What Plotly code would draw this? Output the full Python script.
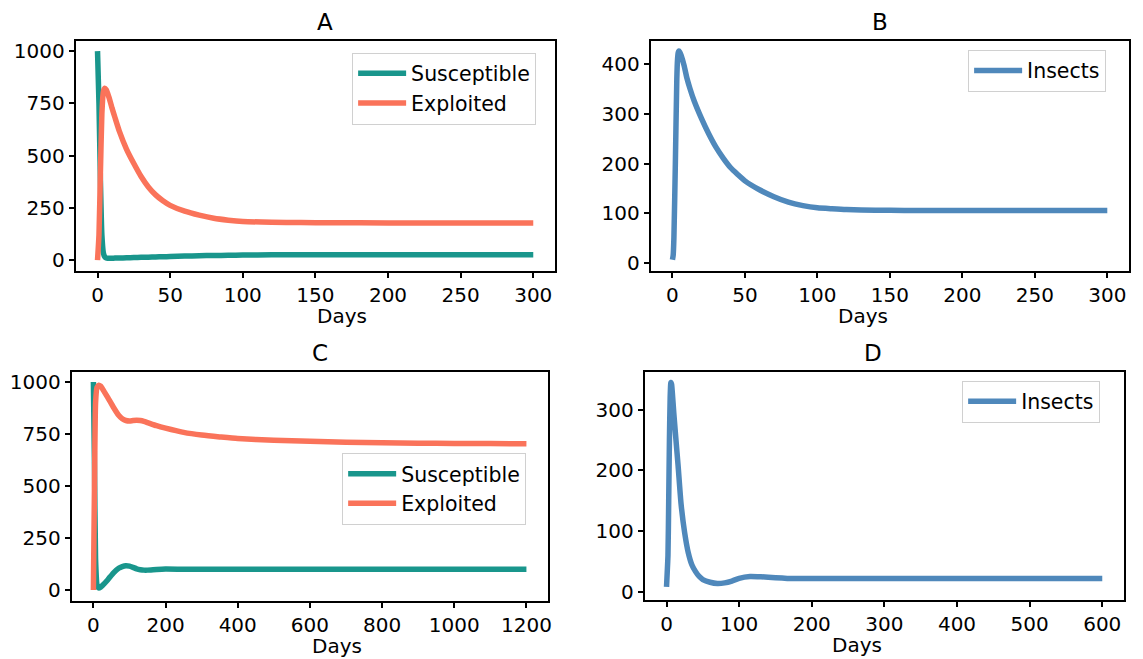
"""Four-panel model output: host classes and insect counts over time."""

import plotly.graph_objects as go

# ─── Data ─────────────────────────────────────────────────────────────────────
# Panel A: hosts, 300 days
days_a = [0, 1, 2, 3, 4, 5, 6, 7, 8, 10, 12, 15, 20, 25, 30, 35, 40, 45, 50,
          60, 70, 80, 90, 100, 120, 140, 160, 200, 250, 300]
susceptible_a = [1000, 750, 380, 120, 35, 15, 10, 9, 9, 9, 9.5, 10, 11, 12, 13,
                 14, 15, 16, 17, 19, 21, 22, 23, 24, 25, 26, 26, 26, 26, 26]
exploited_a = [0, 120, 420, 700, 805, 822, 815, 798, 776, 727, 682, 617, 530,
               462, 400, 350, 312, 284, 262, 234, 215, 200, 191, 185, 181,
               179.5, 179, 178, 178, 178]

# Panel B: insects, 300 days
days_b = [0, 0.5, 1, 2, 3, 3.5, 4, 4.5, 5, 6, 8, 10, 12, 15, 20, 25, 30, 35, 40,
          45, 50, 60, 70, 80, 90, 100, 110, 120, 140, 160, 200, 250, 300]
insects_b = [6, 15, 50, 200, 370, 410, 424, 427, 425, 418, 398, 372, 352, 326,
             291, 260, 233, 211, 192, 178, 165, 147, 133, 122, 115, 110.5, 108.5,
             107, 105.8, 105.3, 105, 105, 105]

# Panel C: hosts, 1200 days
days_c = [0, 3, 6, 10, 15, 20, 25, 40, 55, 70, 80, 90, 100, 110, 120, 130, 140,
          150, 175, 200, 250, 300, 350, 400, 500, 600, 700, 800, 900, 1000,
          1100, 1200]
susceptible_c = [1000, 600, 150, 25, 10, 14, 22, 50, 82, 105, 113, 117, 115, 109,
                 102, 98, 96, 96, 99, 101, 100, 100, 100, 100, 100, 100, 100,
                 100, 100, 100, 100, 100]
exploited_c = [0, 500, 900, 975, 985, 980, 968, 925, 880, 840, 823, 815, 813,
               815, 816, 815, 811, 805, 790, 778, 758, 745, 736, 728, 720, 715,
               711, 708, 706, 705, 704, 703]

# Panel D: insects, 600 days
days_d = [0, 2, 3, 4, 5, 6, 7, 8, 10, 13, 16, 20, 25, 30, 35, 40, 45, 50, 60, 70,
          80, 90, 100, 115, 130, 150, 175, 200, 250, 300, 400, 500, 600]
insects_d = [8, 60, 150, 250, 320, 345, 342, 328, 295, 250, 207, 145, 97, 64, 44,
             33, 25, 20, 15.5, 13.5, 14.5, 17.5, 22, 25, 24.5, 23, 21.5, 21.5,
             21.5, 21.5, 21.5, 21.5, 21.5]

# ─── Style ────────────────────────────────────────────────────────────────────
TEAL = "#19968c"
CORAL = "#fa735a"
BLUE = "#4f88bb"
FONT = "DejaVu Sans"
W, H = 1143, 659


def px_x(p):
    return p / W


def px_y(p):
    return 1 - p / H


def curve(x, y, name, color, sfx, legend):
    return go.Scatter(
        x=x, y=y, mode="lines", name=name,
        line=dict(color=color, width=5.5, shape="spline", smoothing=0.5),
        xaxis="x" + sfx, yaxis="y" + sfx, legend=legend,
    )


fig = go.Figure()
fig.add_trace(curve(days_a, susceptible_a, "Susceptible", TEAL, "", "legend"))
fig.add_trace(curve(days_a, exploited_a, "Exploited", CORAL, "", "legend"))
fig.add_trace(curve(days_b, insects_b, "Insects", BLUE, "2", "legend2"))
fig.add_trace(curve(days_c, susceptible_c, "Susceptible", TEAL, "3", "legend3"))
fig.add_trace(curve(days_c, exploited_c, "Exploited", CORAL, "3", "legend3"))
fig.add_trace(curve(days_d, insects_d, "Insects", BLUE, "4", "legend4"))

# panel boxes in pixels: (left, right, top, bottom)
boxes = {
    "A": (76, 557, 39, 271),
    "B": (653, 1133, 39, 271),
    "C": (72, 550, 373, 604),
    "D": (647, 1128, 373, 603),
}
x_ranges = {"A": [-15, 315], "B": [-15, 315], "C": [-60, 1260], "D": [-30, 630]}
y_ranges = {"A": [-50, 1050], "B": [-16, 448], "C": [-50, 1050], "D": [-13, 363]}
x_ticks = {"A": 50, "B": 50, "C": 200, "D": 100}
y_ticks = {"A": 250, "B": 100, "C": 250, "D": 100}

axis_common = dict(
    showline=True, mirror=True, linecolor="black", linewidth=2,
    ticks="outside", ticklen=5, tickwidth=1.5, tickcolor="black",
    showgrid=False, zeroline=False,
    tickfont=dict(family=FONT, size=20, color="black"),
)

annotations = []
for i, key in enumerate(["A", "B", "C", "D"]):
    l, r, t, b = boxes[key]
    sfx = "" if i == 0 else str(i + 1)
    fig.layout["xaxis" + sfx] = dict(
        axis_common, domain=[px_x(l), px_x(r)], range=x_ranges[key],
        dtick=x_ticks[key], tick0=0, anchor="y" + sfx,
    )
    fig.layout["yaxis" + sfx] = dict(
        axis_common, domain=[px_y(b), px_y(t)], range=y_ranges[key],
        dtick=y_ticks[key], tick0=0, anchor="x" + sfx,
    )
    cx = px_x((l + r) / 2)
    annotations.append(dict(text=key, x=cx, y=px_y(t - 19), xref="paper", yref="paper",
                            showarrow=False, yanchor="middle",
                            font=dict(family=FONT, size=23, color="black")))
    annotations.append(dict(text="Days", x=cx, y=px_y(b + 46), xref="paper", yref="paper",
                            showarrow=False, yanchor="middle",
                            font=dict(family=FONT, size=20, color="black")))

legend_common = dict(
    bgcolor="white", bordercolor="#d0d0d0", borderwidth=1,
    font=dict(family=FONT, size=20.5, color="black"),
    xanchor="right", yanchor="top", tracegroupgap=0, itemwidth=48,
)

fig.update_layout(
    width=W, height=H,
    margin=dict(l=0, r=0, t=0, b=0),
    paper_bgcolor="white", plot_bgcolor="white",
    annotations=annotations,
    legend=dict(legend_common, x=px_x(538), y=px_y(51)),
    legend2=dict(legend_common, x=px_x(1110), y=px_y(48)),
    legend3=dict(legend_common, x=px_x(528), y=px_y(455)),
    legend4=dict(legend_common, x=px_x(1104), y=px_y(382)),
)

# the page has a default body margin; drop it so the figure sits at 0,0
fig.write_html(
    "out.html",
    config={"displayModeBar": False},
    post_script="document.body.style.margin = '0';",
)
